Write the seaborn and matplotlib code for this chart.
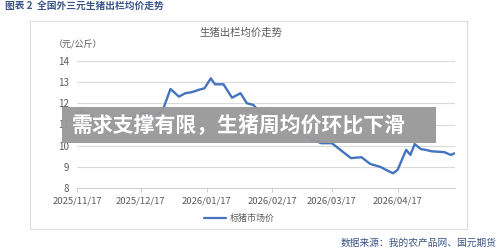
import matplotlib
matplotlib.use("Agg")
import matplotlib.pyplot as plt
import matplotlib.dates as mdates
from matplotlib.patches import Rectangle
import pandas as pd
import seaborn as sns

dates = ["2025-11-17", "2025-11-19", "2025-11-22", "2025-11-26", "2025-11-29", "2025-12-03",
         "2025-12-10", "2025-12-15", "2025-12-19", "2025-12-22", "2025-12-25", "2025-12-28",
         "2025-12-31", "2026-01-04", "2026-01-07", "2026-01-10", "2026-01-14", "2026-01-16",
         "2026-01-19", "2026-01-21", "2026-01-25", "2026-01-29", "2026-02-02", "2026-02-05",
         "2026-02-08", "2026-02-11", "2026-02-15", "2026-02-18", "2026-02-22", "2026-03-02",
         "2026-03-05", "2026-03-10", "2026-03-12", "2026-03-17", "2026-03-21", "2026-03-26",
         "2026-03-31", "2026-04-04", "2026-04-09", "2026-04-13", "2026-04-15", "2026-04-17",
         "2026-04-21", "2026-04-23", "2026-04-25", "2026-04-28", "2026-04-30", "2026-05-03",
         "2026-05-09", "2026-05-12", "2026-05-14"]
prices = [11.53, 11.62, 11.48, 11.30, 11.22, 11.18,
          11.30, 11.37, 11.58, 11.45, 11.42, 11.84,
          12.67, 12.31, 12.47, 12.52, 12.65, 12.70,
          13.17, 12.89, 12.89, 12.26, 12.47, 12.00,
          11.92, 11.60, 11.58, 11.45, 11.30, 10.65,
          10.45, 10.20, 10.12, 10.12, 9.81, 9.42,
          9.46, 9.15, 9.00, 8.79, 8.71, 8.87,
          9.81, 9.57, 10.08, 9.84, 9.81, 9.74,
          9.70, 9.57, 9.65]
series_name = "标猪市场价"
xtick_labels = ["2025/11/17", "2025/12/17", "2026/01/17", "2026/02/17", "2026/03/17", "2026/04/17"]
yticks = [8, 9, 10, 11, 12, 13, 14]

df = pd.DataFrame({"date": pd.to_datetime(dates), "price": prices, "series": series_name})

sns.set_theme(style="white")
plt.rcParams["font.family"] = ["Noto Sans CJK SC", "DejaVu Sans"]

fig = plt.figure(figsize=(5, 2.52), dpi=100)
fig.patch.set_facecolor("white")

# chart frame
fig.add_artist(Rectangle((30 / 500, 1 - 228.5 / 252), (466.5 - 30) / 500, (228.5 - 21) / 252,
                         transform=fig.transFigure, facecolor="white", edgecolor="#dcdcdc",
                         linewidth=0.8, zorder=0))

ax = fig.add_axes([77 / 500, 1 - 188.3 / 252, (455 - 77) / 500, (188.3 - 60.7) / 252])
ax.set_facecolor("none")
sns.lineplot(data=df, x="date", y="price", hue="series", palette=["#4474c0"],
             linewidth=1.7, ax=ax, legend=False, zorder=3)

ax.set_ylim(8, 14)
ax.set_xlim(df["date"].iloc[0], df["date"].iloc[-1])
ax.set_yticks(yticks)
ax.set_yticklabels([str(v) for v in yticks], fontsize=7, color="#595959")
xt = pd.to_datetime([s.replace("/", "-") for s in xtick_labels])
ax.set_xticks(xt)
ax.set_xticklabels(xtick_labels, fontsize=6.8, color="#595959")
ax.set_xlabel("")
ax.set_ylabel("")
ax.grid(axis="y", color="#d9d9d9", linewidth=0.8)
ax.grid(axis="x", visible=False)
for s in ["left", "right", "top"]:
    ax.spines[s].set_visible(False)
ax.spines["bottom"].set_color("#d0d0d0")
ax.spines["bottom"].set_linewidth(0.8)
ax.tick_params(axis="x", length=3, width=0.8, color="#d0d0d0", pad=3, bottom=True)
ax.tick_params(axis="y", length=0, pad=6)

# texts
fig.text(5 / 500, 1 - 6 / 252, "图表 2  全国外三元生猪出栏均价走势", fontsize=7, color="#3a5588",
         fontweight="bold", ha="left", va="center")
fig.text(241 / 500, 1 - 33 / 252, "生猪出栏均价走势", fontsize=7.5, color="#595959",
         ha="center", va="center")
fig.text(54 / 500, 1 - 45 / 252, "（元/公斤）", fontsize=6.5, color="#595959",
         ha="left", va="center")
fig.text(497 / 500, 1 - 243 / 252, "数据来源：我的农产品网、国元期货", fontsize=7, color="#3a5588",
         ha="right", va="center")

# legend
fig.add_artist(plt.Line2D([204 / 500, 226 / 500], [1 - 218 / 252, 1 - 218 / 252],
                          transform=fig.transFigure, color="#4474c0", linewidth=1.6))
fig.text(230 / 500, 1 - 218 / 252, series_name, fontsize=6.5, color="#595959",
         ha="left", va="center")

# banner overlay
fig.add_artist(Rectangle((62 / 500, 1 - 143.3 / 252), (436 - 62) / 500, (143.3 - 106.7) / 252,
                         transform=fig.transFigure, facecolor="#9a9a9a", edgecolor="none",
                         alpha=0.97, zorder=10))
fig.text(72 / 500, 1 - 125 / 252, "需求支撑有限，生猪周均价环比下滑", fontsize=15,
         color="white", fontweight="heavy", ha="left", va="center", zorder=11)

fig.savefig("out.png", dpi=100, facecolor="white")
